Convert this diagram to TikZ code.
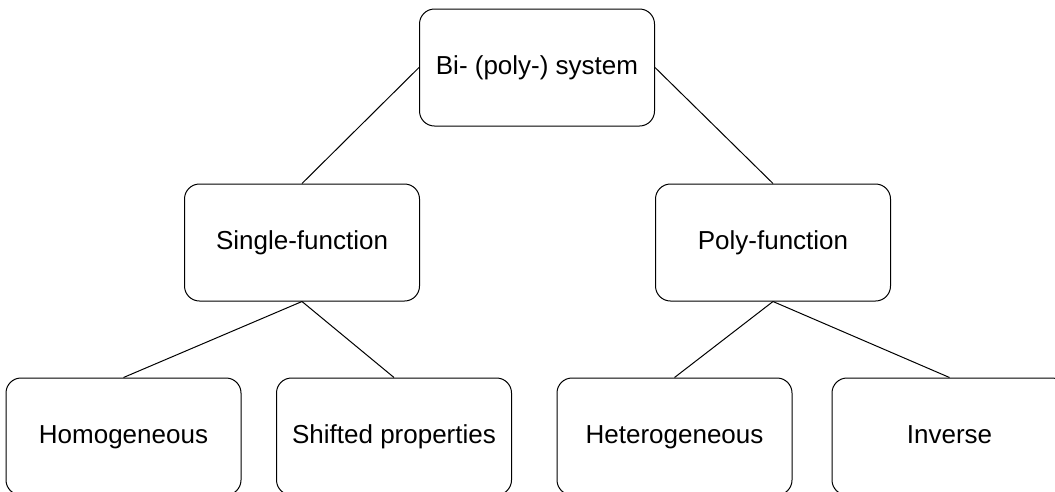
\documentclass[tikz,border=0pt]{standalone}
\usepackage{fontspec}
\setmainfont{Liberation Sans}
\begin{document}
\begin{tikzpicture}[x=1pt,y=-1pt,
  box/.style={draw=black, line width=1pt, rounded corners=15pt,
    minimum width=235pt, minimum height=117pt, inner sep=0pt,
    text height=18.6pt, text depth=4pt,
    font=\fontsize{26}{31}\selectfont},
  link/.style={draw=black, line width=1pt}]
  \useasboundingbox (0,0) rectangle (1055,491);
  \clip (0,0) rectangle (1055,491);
  % top level
  \node[box] (root) at (537,67.5) {Bi- (poly-) system};
  % second level
  \node[box] (single) at (302,242.5) {Single-function};
  \node[box] (poly) at (773,242.5) {Poly-function};
  % leaves
  \node[box] (homo) at (123.5,436.5) {Homogeneous};
  \node[box] (shift) at (394,436.5) {Shifted properties};
  \node[box] (hetero) at (674.5,436.5) {Heterogeneous};
  \node[box] (inv) at (949.5,436.5) {Inverse};
  % connectors
  \draw[link] (root.west) -- (single.north);
  \draw[link] (root.east) -- (poly.north);
  \draw[link] (single.south) -- (homo.north);
  \draw[link] (single.south) -- (shift.north);
  \draw[link] (poly.south) -- (hetero.north);
  \draw[link] (poly.south) -- (inv.north);
\end{tikzpicture}
\end{document}
